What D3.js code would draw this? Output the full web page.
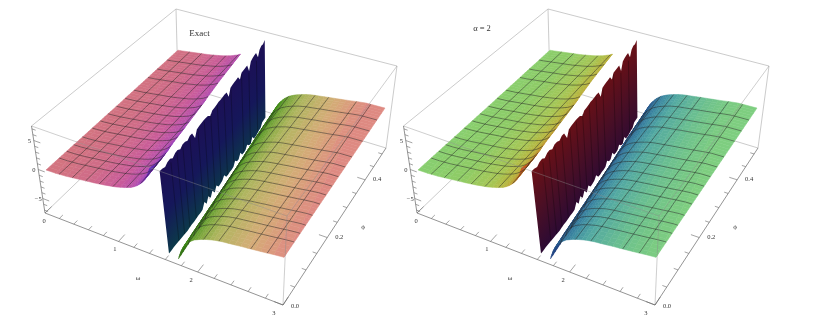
<!DOCTYPE HTML>
<html>
<head>
<script src="https://d3js.org/d3.v7.min.js"></script>
<style>
body { margin:0; background:white; }
svg { display:block; filter:blur(0.25px); }
text { font-family:"Liberation Serif",serif; fill:#333; }
</style>
</head>
<body>
<svg id="svgMain" width="815" height="322"></svg>
<script>
// phi rows the surface was read at
const phiRows = [0,.010,.021,.031,.042,.052,.063,.073,.084,.094,.105,.115,.126,.136,.147,.157,.168,.178,.188,.199,.209,.220,.230,.241,.251,.262,.272,.283,.293,.304,.314,.325,.335,.346,.356,.367,.377,.387,.398,.408,.419,.429,.440,.450,.461,.471,.482,.492,.503,.513,.524];

// jagged top and bottom of the wall, one value per phi row
const wallTop = [7.0,6.9,6.6,6.9,6.9,6.5,6.8,6.8,6.4,6.7,6.6,6.3,6.6,6.5,5.2,6.2,6.3,6.3,6.3,6.2,6.1,5.6,6.1,6.1,6.1,6.2,6.1,6.1,6.1,6.0,4.8,5.9,6.0,6.0,6.0,6.0,5.2,6.0,6.0,6.0,6.0,4.6,5.9,6.1,6.2,6.2,5.0,6.0,6.3,6.2,6.6];
const wallBottom = [-6.7,-6.8,-6.8,-6.9,-7.0,-7.1,-7.2,-7.3,-7.4,-7.4,-7.4,-7.5,-7.5,-7.5,-7.6,-7.6,-6.8,-7.6,-6.8,-7.6,-6.9,-7.7,-7.0,-7.7,-7.7,-7.6,-7.2,-8.0,-8.1,-8.1,-8.2,-8.2,-7.6,-8.2,-8.3,-7.6,-8.4,-8.5,-8.5,-8.0,-8.6,-8.8,-8.0,-8.7,-8.8,-8.7,-8.6,-8.6,-8.0,-8.0,-8.0];

// where the wall stands, and where the two sheets stop next to it
const edgePhi = [0,.131,.262,.393,.524];
const wallOmega = [1.59,1.53,1.47,1.40,1.34];
const leftStop = [-.14,-.28,-.32,-.35,-.37];
const rightStop = [.14,.14,.15,.15,.14];

// height of each sheet against distance from the wall
const leftOffset = [-1.7,-1.6,-1.45,-1.3,-1.15,-1.0,-.92,-.85,-.78,-.7,-.62,-.55,-.5,-.45,-.41,-.37,-.33,-.3,-.28,-.26,-.24,-.22,-.2,-.18,-.16,-.14];
const leftZ = [0,0,.05,.2,.45,.7,.82,.95,1.1,1.3,1.5,1.75,1.95,2.2,2.4,2.7,3.05,3.4,3.65,3.9,4.25,4.6,5.1,5.6,6.3,7];
const rightOffset = [.14,.15,.16,.17,.18,.195,.21,.23,.25,.275,.3,.33,.36,.4,.43,.47,.5,.55,.6,.65,.7,.78,.85,.92,1.0,1.08,1.15,1.22,1.3,1.41,1.7];
const rightZ = [-7,-6.6,-6.2,-5.85,-5.5,-5.1,-4.7,-4.35,-4,-3.65,-3.3,-3,-2.7,-2.45,-2.25,-2.05,-1.9,-1.7,-1.5,-1.37,-1.25,-1.12,-1,-.87,-.75,-.62,-.5,-.38,-.22,-.05,0];

// mesh lines
const meshOmega = [.188,.375,.563,.75,.938,1.125,1.313,1.5,1.688,1.875,2.063,2.25,2.625,2.813];
const meshPhi = [.044,.070,.095,.126,.162,.192,.222,.255,.290,.327,.387,.428,.473];

// axes
const omegaMajor = [0,1,2,3];
const omegaMinor = [.2,.4,.6,.8,1.2,1.4,1.6,1.8,2.2,2.4,2.6,2.8];
const phiMajor = [0,.2,.4];
const phiMinor = [.05,.1,.15,.25,.3,.35,.45,.5];
const zMajor = [-5,0,5];
const zMinor = [-7,-6,-4,-3,-2,-1,1,2,3,4,6,7];

// colours for the two panels, by distance from the wall
const colourLeft = [-1.7,-1.0,-.6,-.37,-.25,-.14];
const colourRight = [.14,.25,.4,.6,1.0,1.15,1.35,1.7];
const panels = [
  { dx:0, title:"Exact", tx:199.5, ty:36,
    left:["#d4777d","#d06c88","#c95c9a","#b650ac","#8f3abd","#5628b8"],
    right:["#2f6f12","#458f1c","#7aa63c","#aeb65e","#d3ad76","#d8a27a","#dd9180","#de8583"],
    wall:["#1d0f55","#15175a","#0b3c48"] },
  { dx:372, title:"\u03b1 = 2", tx:110, ty:31,
    left:["#86cf72","#8fcc66","#a6c655","#b9b33c","#bf8a2c","#c8481c"],
    right:["#1f3f80","#2c6090","#3a86a0","#52a8a2","#6cc08f","#73c588","#7bcb82","#80d07e"],
    wall:["#6b1015","#4a0f25","#2a0a35"] }
];

// box corners on screen: u along omega, v along phi
const topCorners = [[31.5,126],[287,216],[397,66],[176,9]];
const bottomCorners = [[45,213],[283,305],[386,148],[178,85]];
const floorCorners = [[46,170],[284,257],[385,108],[178,51]];

function homography(c) {
  const dx1 = c[1][0]-c[2][0], dx2 = c[3][0]-c[2][0], sx = c[0][0]-c[1][0]+c[2][0]-c[3][0];
  const dy1 = c[1][1]-c[2][1], dy2 = c[3][1]-c[2][1], sy = c[0][1]-c[1][1]+c[2][1]-c[3][1];
  const det = dx1*dy2-dx2*dy1;
  const g = (sx*dy2-dx2*sy)/det, h = (dx1*sy-sx*dy1)/det;
  const a = c[1][0]-c[0][0]+g*c[1][0], b = c[3][0]-c[0][0]+h*c[3][0];
  const d = c[1][1]-c[0][1]+g*c[1][1], e = c[3][1]-c[0][1]+h*c[3][1];
  return (u,v) => {
    const w = g*u+h*v+1;
    return [(a*u+b*v+c[0][0])/w, (d*u+e*v+c[0][1])/w];
  };
}
const topPlane = homography(topCorners);
const bottomPlane = homography(bottomCorners);
const floorPlane = homography(floorCorners);

const xs = d3.scaleLinear().domain([0,3]).range([0,1]);
const ys = d3.scaleLinear().domain([0,.524]).range([0,1]);
const zs = d3.scaleLinear().domain([-7.5,7.5]).range([0,1]);

const wallAt = d3.scaleLinear().domain(edgePhi).range(wallOmega);
const leftStopAt = d3.scaleLinear().domain(edgePhi).range(leftStop);
const rightStopAt = d3.scaleLinear().domain(edgePhi).range(rightStop);
const leftHeight = d3.scaleLinear().domain(leftOffset).range(leftZ).clamp(true);
const rightHeight = d3.scaleLinear().domain(rightOffset).range(rightZ).clamp(true);

// point on the box frame
function boxPoint(omega,phi,z) {
  const t = topPlane(xs(omega),ys(phi)), b = bottomPlane(xs(omega),ys(phi));
  const w = zs(z);
  return [b[0]+(t[0]-b[0])*w, b[1]+(t[1]-b[1])*w];
}
// point on the plotted sheets
function surfacePoint(omega,phi,z) {
  const u = xs(omega), v = ys(phi);
  const t = topPlane(u,v), b = bottomPlane(u,v), f = floorPlane(u,v);
  const w = zs(z)-zs(0);
  return [f[0]+(t[0]-b[0])*w, f[1]+(t[1]-b[1])*w];
}
function heightAt(omega,phi) {
  const off = omega-wallAt(phi);
  return off<0 ? leftHeight(off) : rightHeight(off);
}
function clampLeft(off,phi) {
  return Math.max(0, wallAt(phi)+Math.min(off,leftStopAt(phi)));
}
function clampRight(off,phi) {
  return Math.min(3, wallAt(phi)+Math.max(off,rightStopAt(phi)));
}

const line = d3.line();
const svg = d3.select("#svgMain");

function drawSheet(g,offsets,colourAt,clamp) {
  for (let i=phiRows.length-2;i>=0;i--) {
    const p0 = phiRows[i], p1 = phiRows[i+1];
    for (let j=0;j<offsets.length-1;j++) {
      const a0 = clamp(offsets[j],p0), a1 = clamp(offsets[j+1],p0);
      const b0 = clamp(offsets[j],p1), b1 = clamp(offsets[j+1],p1);
      if (a0==a1 && b0==b1) continue;
      const fill = colourAt((offsets[j]+offsets[j+1])/2);
      g.append("path").attr("d",line([
        surfacePoint(a0,p0,heightAt(a0,p0)),surfacePoint(a1,p0,heightAt(a1,p0)),
        surfacePoint(b1,p1,heightAt(b1,p1)),surfacePoint(b0,p1,heightAt(b0,p1))
      ])+"Z").attr("fill",fill).attr("stroke",fill).attr("stroke-width",.5);
    }
  }
}

function meshLines(g,offsets,clamp,inside) {
  const mesh = g.append("g").attr("fill","none").attr("stroke","#262626")
    .attr("stroke-width",0.6).attr("stroke-opacity",0.82);
  // constant phi
  meshPhi.forEach(p => {
    const pts = offsets.map(o => { const w = clamp(o,p); return surfacePoint(w,p,heightAt(w,p)); });
    mesh.append("path").attr("d",line(pts));
  });
  // constant omega
  meshOmega.forEach(w => {
    const rows = phiRows.filter(p => inside(w,p));
    if (rows.length<2) return;
    mesh.append("path").attr("d",line(rows.map(p => surfacePoint(w,p,heightAt(w,p)))));
  });
}

function drawPanel(cfg,idx) {
  const g = svg.append("g").attr("transform","translate("+cfg.dx+",0)");

  const edge = (a,b,col,w) => g.append("path").attr("d",line([a,b])).attr("stroke",col)
    .attr("stroke-width",w).attr("fill","none");

  // back edges of the box
  const frame = "#b4b4b4";
  edge(boxPoint(0,.524,-7.5),boxPoint(0,.524,7.5),frame,.7);
  edge(boxPoint(0,.524,-7.5),boxPoint(3,.524,-7.5),frame,.7);
  edge(boxPoint(0,0,-7.5),boxPoint(0,.524,-7.5),frame,.7);
  edge(boxPoint(0,.524,7.5),boxPoint(3,.524,7.5),frame,.7);
  edge(boxPoint(0,0,7.5),boxPoint(0,.524,7.5),frame,.7);
  edge(boxPoint(3,.524,-7.5),boxPoint(3,.524,7.5),frame,.7);

  const leftColour = d3.scaleLinear().domain(colourLeft).range(cfg.left);
  const rightColour = d3.scaleLinear().domain(colourRight).range(cfg.right);

  drawSheet(g,leftOffset,leftColour,clampLeft);
  meshLines(g,leftOffset,clampLeft,(w,p) => w-wallAt(p) <= leftStopAt(p));

  // the wall between the two sheets, one jagged outline with a gradient across it
  const lean = z => -.02*z/7;
  const wallTopPts = phiRows.map((p,i) => surfacePoint(wallAt(p)+lean(wallTop[i]),p,wallTop[i]));
  const wallBottomPts = phiRows.map((p,i) => surfacePoint(wallAt(p)+lean(wallBottom[i]),p,wallBottom[i]));
  const from = surfacePoint(wallAt(0)+lean(7.2),0,7.2);
  const to = surfacePoint(wallAt(0)+lean(-7.2),0,-7.2);
  const along = [wallTopPts[50][0]-wallTopPts[0][0], wallTopPts[50][1]-wallTopPts[0][1]];
  const len = Math.hypot(along[0],along[1]);
  const n = [-along[1]/len, along[0]/len];
  const across = (to[0]-from[0])*n[0]+(to[1]-from[1])*n[1];
  const grad = svg.append("defs").append("linearGradient").attr("id","wallGrad"+idx)
    .attr("gradientUnits","userSpaceOnUse")
    .attr("x1",from[0]).attr("y1",from[1])
    .attr("x2",from[0]+n[0]*across).attr("y2",from[1]+n[1]*across);
  cfg.wall.forEach((c,i) => grad.append("stop").attr("offset",i/2).attr("stop-color",c));
  g.append("path").attr("d",line(wallTopPts.concat(wallBottomPts.slice().reverse()))+"Z")
    .attr("fill","url(#wallGrad"+idx+")");
  meshPhi.forEach(p => {
    const i = d3.bisectLeft(phiRows,p);
    g.append("path").attr("d",line([
      surfacePoint(wallAt(p)+lean(wallTop[i]),p,wallTop[i]-.3),
      surfacePoint(wallAt(p)+lean(wallBottom[i]),p,wallBottom[i]+.1)
    ])).attr("stroke","#000").attr("stroke-width",.5).attr("stroke-opacity",.5);
  });

  drawSheet(g,rightOffset,rightColour,clampRight);
  meshLines(g,rightOffset,clampRight,(w,p) => w-wallAt(p) >= rightStopAt(p));

  // front edges of the box, they show faintly across the sheets
  const front = "#8c8c8c";
  g.append("g").attr("opacity",.7).call(s => {
    s.append("path").attr("d",line([boxPoint(0,0,7.5),boxPoint(3,0,7.5)])).attr("stroke",front).attr("stroke-width",.6);
    s.append("path").attr("d",line([boxPoint(3,.524,7.5),boxPoint(3,0,7.5)])).attr("stroke",front).attr("stroke-width",.6);
    s.append("path").attr("d",line([boxPoint(3,0,7.5),boxPoint(3,0,-7.5)])).attr("stroke",front).attr("stroke-width",.6);
  });

  // axis lines
  const axisCol = "#666";
  edge(boxPoint(0,0,-7.5),boxPoint(3,0,-7.5),axisCol,.7);
  edge(boxPoint(3,0,-7.5),boxPoint(3,.524,-7.5),axisCol,.7);
  edge(boxPoint(0,0,-7.5),boxPoint(0,0,7.5),axisCol,.7);

  const tick = (a,b) => edge(a,b,axisCol,.6);
  omegaMajor.forEach(w => tick(boxPoint(w,0,-7.5),boxPoint(w,.022,-7.5)));
  omegaMinor.forEach(w => tick(boxPoint(w,0,-7.5),boxPoint(w,.012,-7.5)));
  phiMajor.forEach(p => tick(boxPoint(3,p,-7.5),boxPoint(2.9,p,-7.5)));
  phiMinor.forEach(p => tick(boxPoint(3,p,-7.5),boxPoint(2.95,p,-7.5)));
  zMajor.forEach(z => tick(boxPoint(0,0,z),boxPoint(.09,0,z)));
  zMinor.forEach(z => tick(boxPoint(0,0,z),boxPoint(.05,0,z)));

  const label = (pos,dx,dy,txt,size) => g.append("text")
    .attr("x",pos[0]+dx).attr("y",pos[1]+dy).attr("text-anchor","middle")
    .attr("font-size",size).text(txt);
  omegaMajor.forEach(w => label(boxPoint(w,0,-7.5),-1-2.7*w,10,w,6.5));
  phiMajor.forEach(p => label(boxPoint(3,p,-7.5),12,1.5+ (p==0?1.5:0),p.toFixed(1),6.5));
  zMajor.forEach(z => label(boxPoint(0,0,z),-4.5,2.5,z<0?"\u2212"+(-z):z,6.5));
  label([138,280],0,0,"\u03c9",7);
  label([363,229],0,0,"\u03d5",7);
  label([cfg.tx,cfg.ty],0,0,cfg.title,cfg.title=="Exact"?9:8.5);
}

panels.forEach(drawPanel);
</script>
</body>
</html>
